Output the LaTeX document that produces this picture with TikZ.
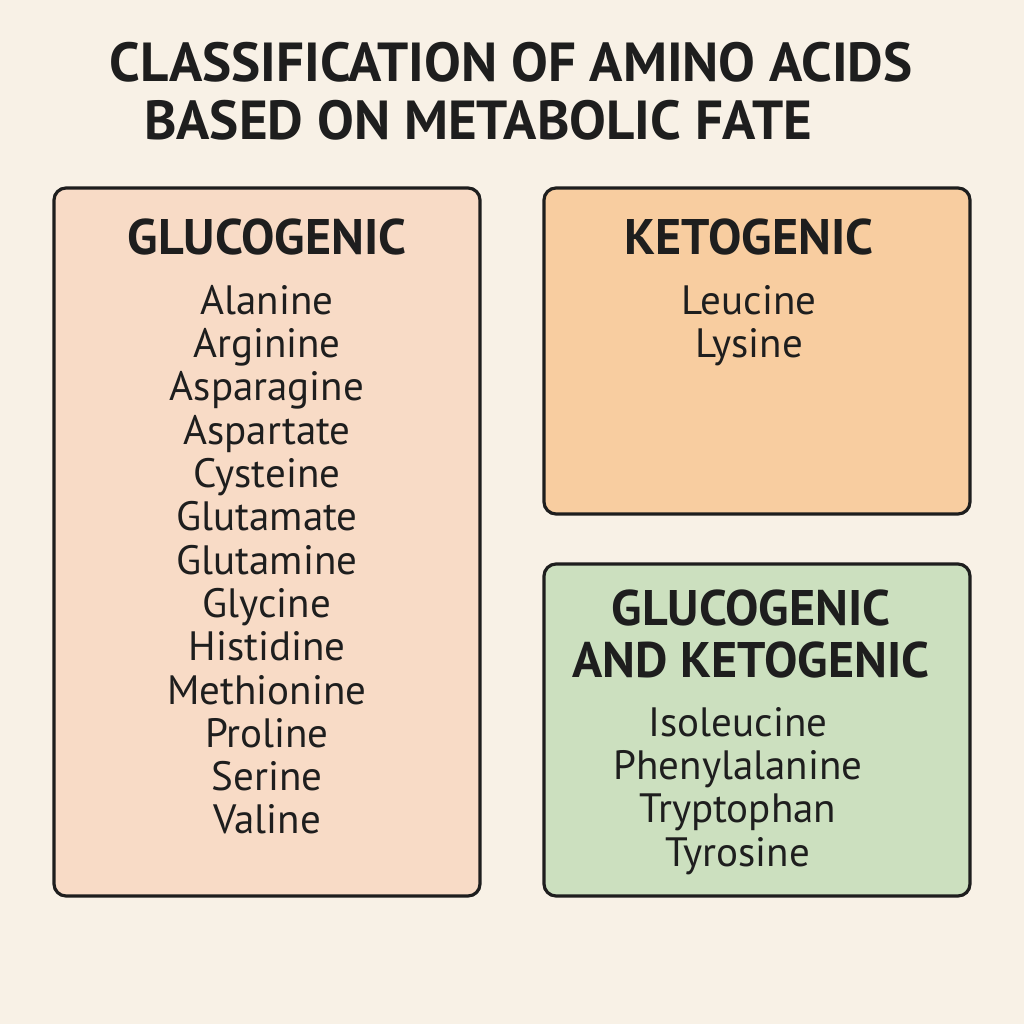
\documentclass[tikz,border=0pt]{standalone}
\usepackage{fontspec}
\setmainfont{PT Sans}
\definecolor{bgc}{HTML}{F8F1E6}
\definecolor{gluc}{HTML}{F8DBC6}
\definecolor{keto}{HTML}{F8CDA0}
\definecolor{both}{HTML}{CCE0BF}
\definecolor{ink}{HTML}{1E1E1E}
\tikzset{
  panel/.style={draw=ink, line width=3.2pt, rounded corners=12pt},
  ttl/.style={font=\fontsize{55}{57}\selectfont\bfseries, text=ink, inner sep=0pt},
  head/.style={font=\fontsize{50}{52}\selectfont\bfseries, text=ink, inner sep=0pt, align=center},
  items/.style={font=\fontsize{41}{43.3}\selectfont, text=ink, inner sep=0pt, align=center}
}
\begin{document}
\begin{tikzpicture}[x=1pt,y=-1pt]
\fill[bgc] (0,0) rectangle (1024,1024);
\useasboundingbox (0,0) rectangle (1024,1024);
\node[ttl] (t1) at (511,62) {CLASSIFICATION OF AMINO ACIDS};
\node[ttl] (t2) at (478,120) {BASED ON METABOLIC FATE};
\draw[panel, fill=gluc] (54,188) rectangle (480,896);
\draw[panel, fill=keto] (544,188) rectangle (970,514);
\draw[panel, fill=both] (544,564) rectangle (970,896);
\node[head] (h1) at (267,237) {GLUCOGENIC};
\node[items, anchor=north] (l1) at (267,285) {Alanine\\Arginine\\Asparagine\\Aspartate\\Cysteine\\Glutamate\\Glutamine\\Glycine\\Histidine\\Methionine\\Proline\\Serine\\Valine};
\node[head] (h2) at (749,237) {KETOGENIC};
\node[items, anchor=north] (l2) at (749,285) {Leucine\\Lysine};
\node[head] (h3) at (751,634) {GLUCOGENIC\\AND KETOGENIC};
\node[items, anchor=north] (l3) at (738,707) {Isoleucine\\Phenylalanine\\Tryptophan\\Tyrosine};
\end{tikzpicture}
\end{document}
